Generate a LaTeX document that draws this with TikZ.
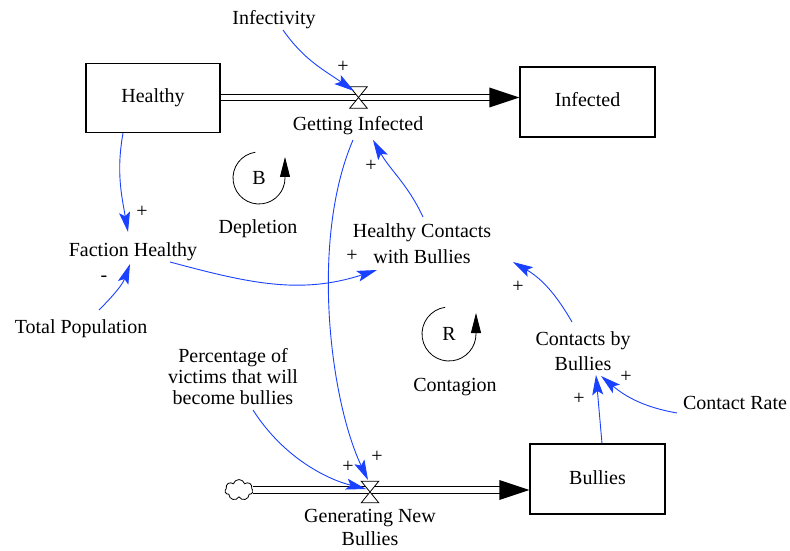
\documentclass[tikz,border=0pt]{standalone}
\usepackage{fontspec}
\setmainfont{Liberation Serif}
\newfontfamily\diagfont{Liberation Serif}
\usetikzlibrary{arrows.meta,shapes.symbols,calc}
\definecolor{linkblue}{RGB}{25,65,255}
\begin{document}
\begin{tikzpicture}[x=1pt,y=1pt,
  every node/.style={font=\diagfont\fontsize{20}{24}\selectfont, inner sep=0pt},
  txt/.style={text height=14pt, text depth=4pt},
  stock/.style={draw, line width=1.1pt, minimum width=134pt, minimum height=69pt, txt},
  valveshape/.style={minimum width=17pt, minimum height=21pt},
  link/.style={draw=linkblue, line width=0.9pt, -{Stealth[length=20pt,width=11pt,inset=4pt]}},
  pipe/.style={double, double distance=5.5pt, line width=1.2pt},
  loopmark/.style={line width=0.8pt, -{Triangle[length=20pt,width=10pt]}}
]
\useasboundingbox (0,0) rectangle (790,550);

% stocks
\node[stock] (hb) at (153,452) {Healthy};
\node[stock, minimum width=135pt, minimum height=70pt] (ib) at (587.5,448) {Infected};
\node[stock, minimum width=135pt, minimum height=70pt] (bb) at (597.5,71) {Bullies};
\node[valveshape] (v1) at (358.5,452.5) {};
\node[valveshape] (v2) at (370,58) {};
\node[cloud, draw, cloud puffs=7, minimum width=28pt, minimum height=21pt, line width=0.8pt] (src) at (239,60) {};

% pipes
\draw[pipe] (hb.east |- v1) -- ([xshift=-28pt]ib.west |- v1);
\fill (ib.west |- v1) -- ++(-30,10) -- ++(0,-20) -- cycle;
\draw[pipe] (src.east) -- ([xshift=-28pt]bb.west |- src.east);
\fill (bb.west |- src.east) -- ++(-30,10) -- ++(0,-20) -- cycle;

% valves
\draw[fill=white, line width=0.8pt] (v1.north west) -- (v1.north east) -- (v1.south west) -- (v1.south east) -- cycle;
\draw[fill=white, line width=0.8pt] (v2.north west) -- (v2.north east) -- (v2.south west) -- (v2.south east) -- cycle;

% variables
\node[txt] (inf) at (274,530) {Infectivity};
\node[txt] (gi) at (358,424) {Getting Infected};
\node[txt] (dep) at (258,322) {Depletion};
\node[txt] (fh) at (133,299) {Faction Healthy};
\node[txt] (tp) at (81,222) {Total Population};
\node[align=center, font=\diagfont\fontsize{20}{26}\selectfont] (hcb) at (422,306) {Healthy Contacts\\with Bullies};
\node[align=center, font=\diagfont\fontsize{20}{25}\selectfont] (cbb) at (583,199) {Contacts by\\Bullies};
\node[txt] (cr) at (735,146) {Contact Rate};
\node[txt] (con) at (455,164) {Contagion};
\node[align=center, font=\diagfont\fontsize{20}{21}\selectfont] (pct) at (233,173) {Percentage of\\victims that will\\become bullies};
\node[align=center, font=\diagfont\fontsize{20}{23}\selectfont] (gnb) at (370,23) {Generating New\\Bullies};

% loop markers
\node (bl) at (259,372) {B};
\draw[loopmark] ([shift={(98:26)}]bl.center) arc[start angle=98, end angle=360, radius=26] -- ++(0,21);
\node (rl) at (449,216) {R};
\draw[loopmark] ([shift={(98:27)}]rl.center) arc[start angle=98, end angle=360, radius=27] -- ++(0,21);

% links
\draw[link] ([shift={(9,-10)}]inf.center) to[out=-55,in=145] ([shift={(-4.5,6.5)}]v1.center);
\draw[link] ([xshift=-30pt]hb.south) to[out=-100,in=100] ([shift={(-5,19)}]fh.center);
\draw[link] ([shift={(18,18)}]tp.center) to[out=45,in=-110] ([shift={(-3,-13)}]fh.center);
\draw[link] ([shift={(37,-11)}]fh.center) to[out=-15,in=198] ([shift={(-45,-26)}]hcb.center);
\draw[link] ([shift={(1,27)}]hcb.center) to[out=115,in=-60] ([shift={(15,-14)}]gi.center);
\draw[link] ([shift={(-5,-14)}]gi.center) .. controls (310,310) and (330,150) .. ([shift={(-2,12)}]v2.center);
\draw[link] ([shift={(20,-33)}]pct.center) .. controls (285,90) and (330,70) .. ([shift={(-4,3)}]v2.center);
\draw[link] ([xshift=4.5pt]bb.north) to[out=95,in=-85] ([shift={(13,-24)}]cbb.center);
\draw[link] ([shift={(-58,-9)}]cr.center) to[out=170,in=-40] ([shift={(18,-25)}]cbb.center);
\draw[link] ([shift={(-11,29)}]cbb.center) to[out=120,in=-30] ([shift={(91,-18)}]hcb.center);

% polarities
\node (p1) at (343,483) {+};
\node (p2) at (142,338) {+};
\node (p3) at (104,271) {-};
\node (p4) at (352,294) {+};
\node (p5) at (371,384) {+};
\node (p6) at (348,83) {+};
\node (p7) at (377,93) {+};
\node (p8) at (518,263) {+};
\node (p9) at (579,151) {+};
\node (p10) at (626,173) {+};
\end{tikzpicture}
\end{document}
